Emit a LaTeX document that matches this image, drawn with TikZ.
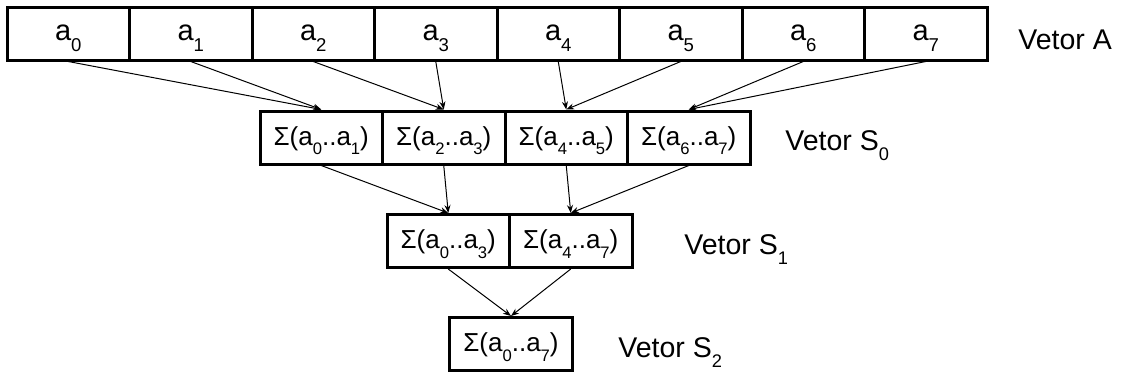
\documentclass[tikz,border=0pt]{standalone}
\usepackage{fontspec}
\setmainfont{Liberation Sans}
\usepackage{graphicx}
\usetikzlibrary{arrows.meta}
\newcommand{\ix}[1]{\raisebox{-0.38em}{\scalebox{0.64}{#1}}}

\begin{document}
\begin{tikzpicture}[
    x=0.5pt, y=-0.5pt,
    cell/.style={draw, line width=1.5pt, inner sep=0pt,
      minimum width=61.25pt, minimum height=26.5pt},
    acell/.style={cell, text height=9.5pt, text depth=2.5pt,
      font=\fontsize{14.5}{17}\selectfont},
    scell/.style={cell, text height=10pt, text depth=2.5pt,
      font=\fontsize{13}{15}\selectfont},
    vlabel/.style={anchor=base west, inner sep=0pt, font=\fontsize{14.25}{17}\selectfont},
    soma/.style={line width=0.5pt, -{Stealth[length=4pt, width=3pt]}},
  ]
    \useasboundingbox (0, 0) rectangle (1122, 376);

    % 向量 A 的八个单元
    \node[acell] (a0) at (68.25, 33.5)  {a\ix{0}};
    \node[acell] (a1) at (190.75, 33.5) {a\ix{1}};
    \node[acell] (a2) at (313.25, 33.5) {a\ix{2}};
    \node[acell] (a3) at (435.75, 33.5) {a\ix{3}};
    \node[acell] (a4) at (558.25, 33.5) {a\ix{4}};
    \node[acell] (a5) at (680.75, 33.5) {a\ix{5}};
    \node[acell] (a6) at (803.25, 33.5) {a\ix{6}};
    \node[acell] (a7) at (925.75, 33.5) {a\ix{7}};

    % 第一层部分和 S0
    \node[scell] (s00) at (321.25, 137.5) {Σ(a\ix{0}..a\ix{1})};
    \node[scell] (s01) at (443.75, 137.5) {Σ(a\ix{2}..a\ix{3})};
    \node[scell] (s02) at (566.25, 137.5) {Σ(a\ix{4}..a\ix{5})};
    \node[scell] (s03) at (688.75, 137.5) {Σ(a\ix{6}..a\ix{7})};

    % 第二层部分和 S1
    \node[scell] (s10) at (448.25, 241) {Σ(a\ix{0}..a\ix{3})};
    \node[scell] (s11) at (570.75, 241) {Σ(a\ix{4}..a\ix{7})};

    % 最终和 S2
    \node[scell] (s20) at (511, 344) {Σ(a\ix{0}..a\ix{7})};

    % 右侧的向量名称
    \node[vlabel] (vA)  at (1018, 49)  {Vetor A};
    \node[vlabel] (vS0) at (785, 150)  {Vetor S\ix{0}};
    \node[vlabel] (vS1) at (684, 254)  {Vetor S\ix{1}};
    \node[vlabel] (vS2) at (618, 357)  {Vetor S\ix{2}};

    % A -> S0
    \draw[soma] (a0.south) -- (s00.north);
    \draw[soma] (a1.south) -- (s00.north);
    \draw[soma] (a2.south) -- (s01.north);
    \draw[soma] (a3.south) -- (s01.north);
    \draw[soma] (a4.south) -- (s02.north);
    \draw[soma] (a5.south) -- (s02.north);
    \draw[soma] (a6.south) -- (s03.north);
    \draw[soma] (a7.south) -- (s03.north);

    % S0 -> S1
    \draw[soma] (s00.south) -- (s10.north);
    \draw[soma] (s01.south) -- (s10.north);
    \draw[soma] (s02.south) -- (s11.north);
    \draw[soma] (s03.south) -- (s11.north);

    % S1 -> S2
    \draw[soma] (s10.south) -- (s20.north);
    \draw[soma] (s11.south) -- (s20.north);
\end{tikzpicture}
\end{document}
